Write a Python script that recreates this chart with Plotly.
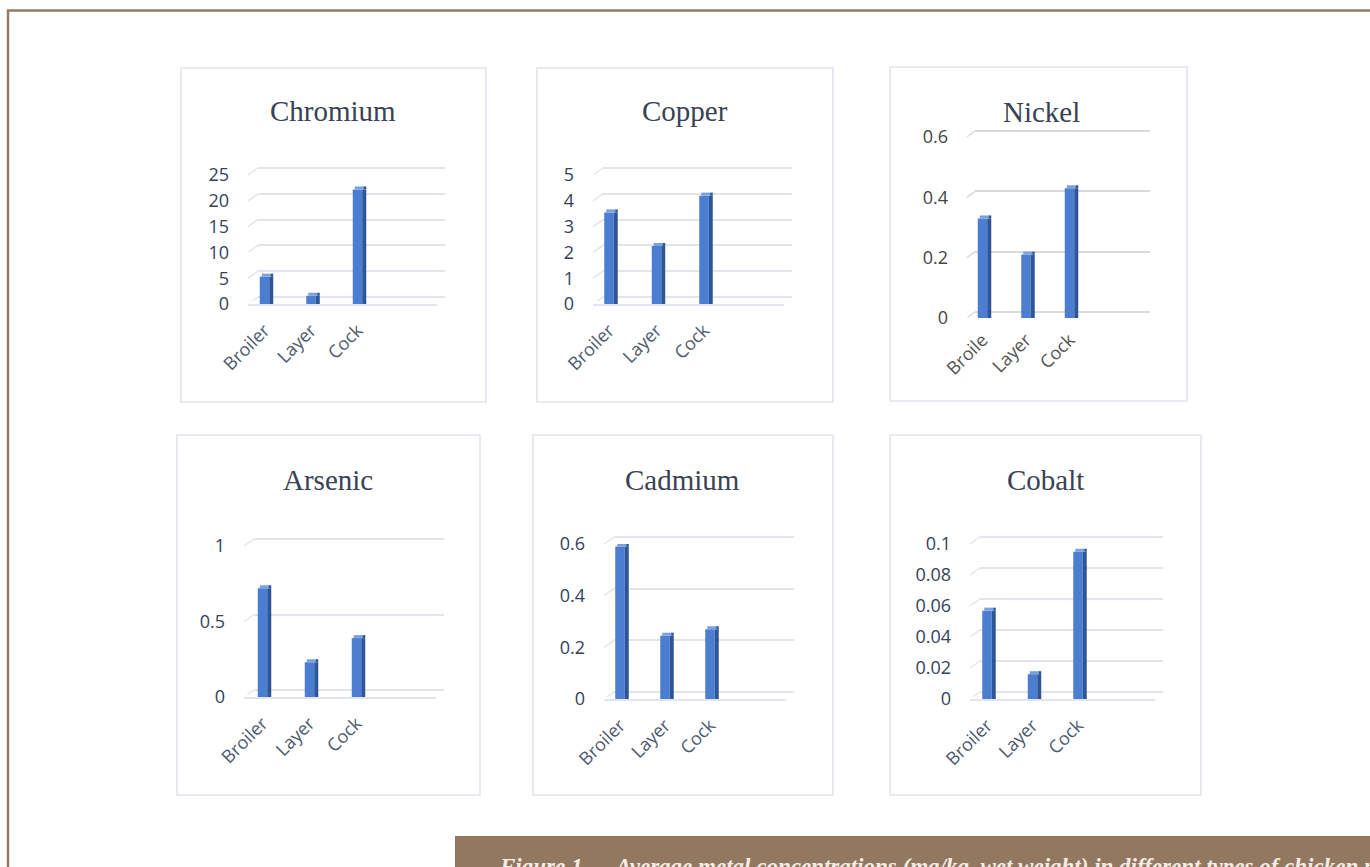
import plotly.graph_objects as go

# ---------------- data ----------------
categories = ["Broiler", "Layer", "Cock"]
nickel_categories = ["Broile", "Layer", "Cock"]

metals = ["Chromium", "Copper", "Nickel", "Arsenic", "Cadmium", "Cobalt"]
chromium = [5.3, 1.6, 22.2]
copper = [3.55, 2.25, 4.2]
nickel = [0.33, 0.21, 0.43]
arsenic = [0.72, 0.23, 0.39]
cadmium = [0.59, 0.245, 0.27]
cobalt = [0.057, 0.016, 0.095]

y_max = [25, 5, 0.6, 1, 0.6, 0.1]
y_step = [5, 1, 0.2, 0.5, 0.2, 0.02]

caption = "Figure 1 — Average metal concentrations (mg/kg, wet weight) in different types of chicken meat"

# ---------------- layout geometry (pixels) ----------------
W, H = 1370, 867
series = [chromium, copper, nickel, arsenic, cadmium, cobalt]
labels = [categories, categories, nickel_categories, categories, categories, categories]

geom = [
    dict(box=(181, 68, 486, 402), title=(333, 111), L=258, R=445, zero=297, top=168, c0=264.5, s=46.5, dx=-10, dy=7, front=True),
    dict(box=(537, 68, 833, 402), title=(685, 111), L=603, R=792, zero=297, top=168, c0=609, s=47.5, dx=-10, dy=7, front=True),
    dict(box=(890, 67, 1187, 401), title=(1041, 112), L=975, R=1150, zero=312, top=131, c0=982.5, s=43.5, dx=-8, dy=6, front=False),
    dict(box=(177, 435, 480, 795), title=(328, 480), L=254, R=444, zero=690, top=539, c0=262.5, s=47, dx=-10, dy=7, front=True),
    dict(box=(533, 435, 833, 795), title=(682, 480), L=614, R=794, zero=692, top=537, c0=620, s=45, dx=-10, dy=7, front=True),
    dict(box=(890, 435, 1201, 795), title=(1045, 480), L=980, R=1163, zero=692, top=537, c0=987, s=45.5, dx=-10, dy=7, front=True),
]

def px(x):
    return x / W

def py(y):
    return 1 - y / H

FRONT = "#4b7dd1"
SIDE = "#2d5597"
TOP = "#7aa0df"
GRID = "#e2e5ec"
TICK = "#36425a"
CAT = "#4f5b70"
TITLE = "#3a4254"

fig = go.Figure()
layout = {}
shapes = []
annotations = []

def ax(kind, n):
    return f"{kind}axis" if n == 1 else f"{kind}axis{n}"

def ref(kind, n):
    return kind if n == 1 else f"{kind}{n}"

PAD = 0.03

for i, g in enumerate(geom):
    b = 2 * i + 1   # back (gridlines) drawn first
    f = 2 * i + 2   # front (bars + labels)
    ymax = y_max[i]
    grid_col = "#dadada" if i == 2 else GRID
    tick_col = "#454545" if i == 2 else TICK
    cat_col = "#555555" if i == 2 else CAT

    fL = g["L"] + g["dx"]
    fR = g["R"] + g["dx"] + 2
    s = g["s"]
    xr = [(fL - g["c0"]) / s, (fR - g["c0"]) / s]
    wf = 9.5 / s
    ws = 4.0 / s
    span = g["zero"] - g["top"]
    units_per_px = ymax / span
    cap = 3.0 * units_per_px

    # bars: front face, side face, thin top cap (all from the same values)
    fig.add_trace(go.Bar(x=[0, 1, 2], y=series[i], width=wf, offset=-wf / 2,
                         marker=dict(color=FRONT, line=dict(width=0)),
                         xaxis=ref("x", f), yaxis=ref("y", f), showlegend=False,
                         name=metals[i]))
    fig.add_trace(go.Bar(x=[0, 1, 2], y=series[i], width=ws, offset=wf / 2,
                         marker=dict(color=SIDE, line=dict(width=0)),
                         xaxis=ref("x", f), yaxis=ref("y", f), showlegend=False,
                         hoverinfo="skip"))
    fig.add_trace(go.Bar(x=[0, 1, 2], y=[cap] * 3, base=series[i], width=wf, offset=-wf / 2 + ws / 2,
                         marker=dict(color=TOP, line=dict(width=0)),
                         xaxis=ref("x", f), yaxis=ref("y", f), showlegend=False,
                         hoverinfo="skip"))
    fig.add_trace(go.Bar(x=[0, 1, 2], y=[cap] * 3, base=series[i], width=ws * 0.6, offset=wf / 2 + ws * 0.4,
                         marker=dict(color=SIDE, line=dict(width=0)),
                         xaxis=ref("x", f), yaxis=ref("y", f), showlegend=False,
                         hoverinfo="skip"))

    # front axes (labels + bars)
    layout[ax("x", f)] = dict(domain=[px(fL), px(fR)], range=xr, anchor=ref("y", f),
                             tickvals=[0, 1, 2], ticktext=labels[i], tickangle=-45,
                             tickfont=dict(family="Open Sans", size=18, color=cat_col),
                             showgrid=False, zeroline=False, ticks="",
                             showline=g["front"], linecolor=grid_col, linewidth=1.5,
                             ticklabelstandoff=7, fixedrange=True, automargin=False)
    layout[ax("y", f)] = dict(domain=[py(g["zero"] + g["dy"]), py(g["top"] + g["dy"])],
                             range=[0, ymax], anchor=ref("x", f), tick0=0, dtick=y_step[i],
                             tickfont=dict(family="Open Sans", size=18, color=tick_col),
                             showgrid=False, zeroline=False, showline=False, ticks="",
                             ticklabelstandoff=18, fixedrange=True, automargin=False)
    # back axes (gridlines), range padded so edge gridlines are drawn
    layout[ax("x", b)] = dict(domain=[px(g["L"]), px(g["R"])], range=[0, 1], anchor=ref("y", b),
                             visible=False, fixedrange=True)
    layout[ax("y", b)] = dict(domain=[py(g["zero"] + PAD * span), py(g["top"] - PAD * span)],
                             range=[-PAD * ymax, (1 + PAD) * ymax],
                             anchor=ref("x", b), tick0=0, dtick=y_step[i], showgrid=True,
                             gridcolor=grid_col, gridwidth=1.5, zeroline=False,
                             showticklabels=False, ticks="", showline=False, fixedrange=True,
                             automargin=False)

    # small diagonal connectors at the left of each gridline
    n_steps = int(round(ymax / y_step[i]))
    for k in range(n_steps + 1):
        v = k * y_step[i]
        shapes.append(dict(type="line", xref=f"{ref('x', b)} domain", yref=ref("y", b),
                           x0=0, x1=g["dx"] / (g["R"] - g["L"]),
                           y0=v, y1=v - g["dy"] * units_per_px,
                           line=dict(color=grid_col, width=1.5), layer="below"))

    # panel border
    x0, y0, x1, y1 = g["box"]
    shapes.append(dict(type="rect", xref="paper", yref="paper",
                       x0=px(x0), x1=px(x1), y0=py(y1), y1=py(y0),
                       line=dict(color="#dfe3eb", width=1.5), fillcolor="rgba(0,0,0,0)",
                       layer="below"))
    # title
    annotations.append(dict(text=metals[i], xref="paper", yref="paper",
                            x=px(g["title"][0]), y=py(g["title"][1]),
                            xanchor="center", yanchor="middle", showarrow=False,
                            font=dict(family="Liberation Serif", size=29, color=TITLE)))

# page frame
shapes.append(dict(type="line", xref="paper", yref="paper", x0=px(7), x1=1,
                   y0=py(10.5), y1=py(10.5), line=dict(color="#977a63", width=2.5)))
shapes.append(dict(type="line", xref="paper", yref="paper", x0=px(8), x1=px(8),
                   y0=0, y1=py(10), line=dict(color="#977a63", width=2.5)))
# caption box
shapes.append(dict(type="rect", xref="paper", yref="paper", x0=px(455), x1=1,
                   y0=0, y1=py(836), line=dict(width=0), fillcolor="#937861"))
annotations.append(dict(text="<i><b>" + caption + "</b></i>", xref="paper", yref="paper",
                        x=px(497), y=py(852), xanchor="left", yanchor="top",
                        showarrow=False, align="left",
                        font=dict(family="Liberation Serif", size=23, color="#f4ede6")))

layout.update(dict(width=W, height=H,
                   margin=dict(l=0, r=0, t=0, b=0, pad=0, autoexpand=False),
                   paper_bgcolor="white", plot_bgcolor="rgba(0,0,0,0)",
                   barmode="overlay", shapes=shapes, annotations=annotations,
                   showlegend=False))
fig.update_layout(**layout)
fig.write_html("out.html")
